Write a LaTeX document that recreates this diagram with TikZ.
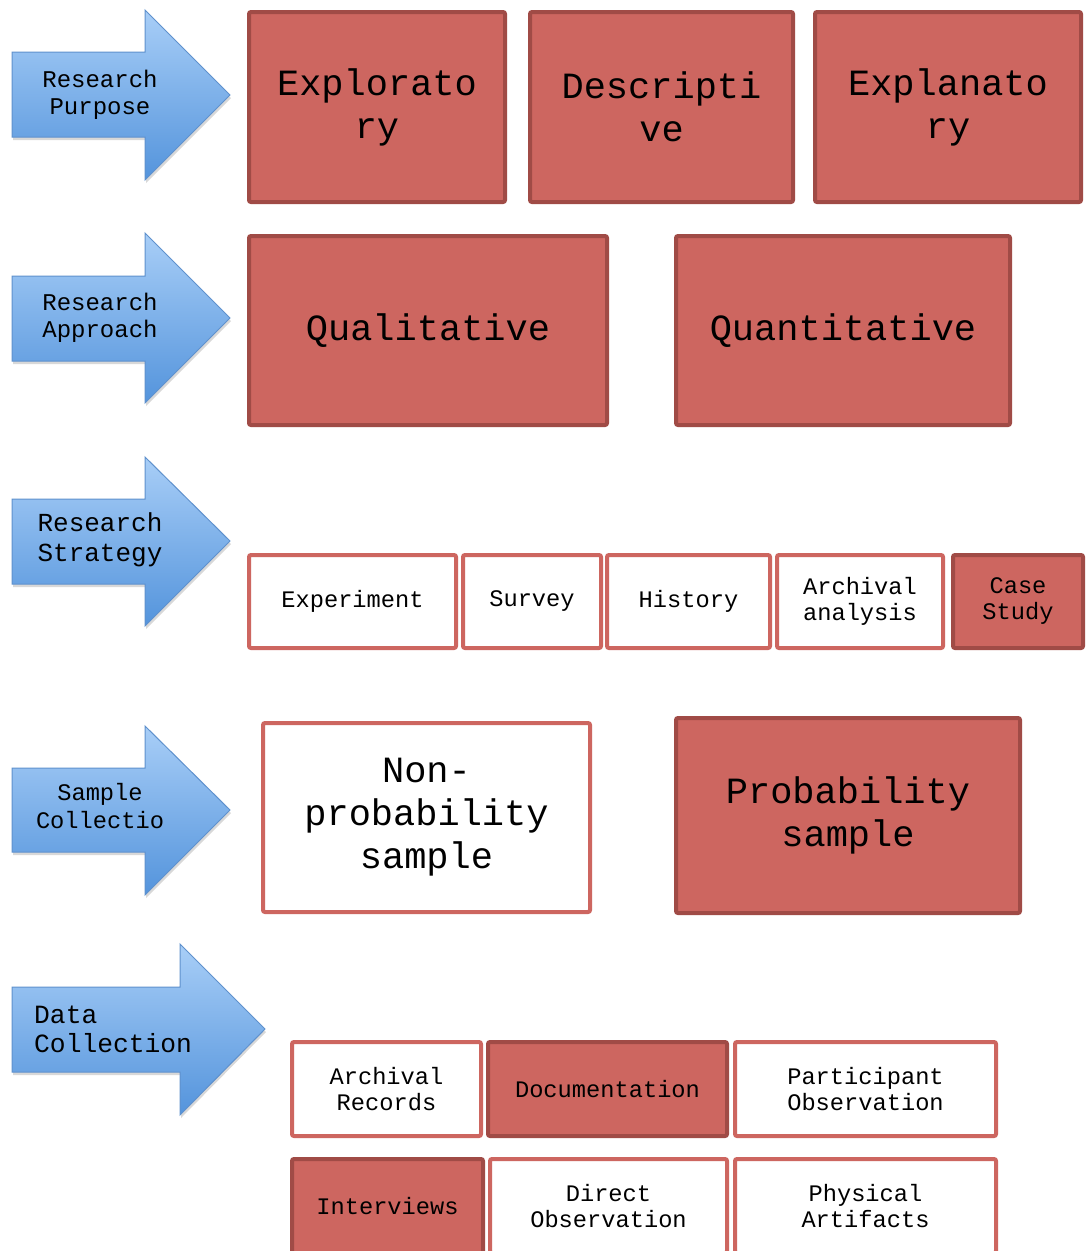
\documentclass[tikz,border=0pt]{standalone}
\usepackage{fontspec}
\setmonofont{Liberation Mono}
\usepackage{tikz}
\usetikzlibrary{shadows}

\definecolor{boxfill}{RGB}{205,102,96}
\definecolor{boxline}{RGB}{160,75,70}
\definecolor{arrowtop}{RGB}{168,206,247}
\definecolor{arrowbot}{RGB}{84,148,220}
\definecolor{arrowline}{RGB}{95,145,205}

\begin{document}
\begin{tikzpicture}[x=1pt, y=-1pt,
  blockarrow/.style={draw=arrowline, line width=1pt, top color=arrowtop, bottom color=arrowbot, drop shadow={shadow xshift=1pt, shadow yshift=-3pt, opacity=0.3}},
  arrowtext/.style={align=center, inner sep=0pt, font=\ttfamily\fontsize{24}{27}\selectfont},
  darkbox/.style={draw=boxline, fill=boxfill, line width=4pt, rounded corners=2pt, align=center, inner sep=0pt},
  lightbox/.style={darkbox, draw=boxfill, fill=white},
  bigtext/.style={font=\ttfamily\fontsize{37}{43}\selectfont},
  smalltext/.style={font=\ttfamily\fontsize{23.7}{26}\selectfont}]
\useasboundingbox[fill=white] (0,0) rectangle (1089,1251);

% arrows on the left
\path[blockarrow] (12,52) -- (145,52) -- (145,10) -- (230,95) -- (145,180) -- (145,137) -- (12,137) -- cycle;
\path[blockarrow] (12,276) -- (145,276) -- (145,233) -- (230,318) -- (145,403) -- (145,361) -- (12,361) -- cycle;
\path[blockarrow] (12,499) -- (145,499) -- (145,457) -- (230,541) -- (145,626) -- (145,584) -- (12,584) -- cycle;
\path[blockarrow] (12,768) -- (145,768) -- (145,726) -- (230,810) -- (145,895) -- (145,852) -- (12,852) -- cycle;
\path[blockarrow] (12,987) -- (180,987) -- (180,944) -- (265,1029) -- (180,1115) -- (180,1072) -- (12,1072) -- cycle;

\node[arrowtext] (purpose) at (100,95) {Research\\Purpose};
\node[arrowtext] (approach) at (100,318) {Research\\Approach};
\node[arrowtext, font=\ttfamily\fontsize{26}{30}\selectfont] (strategy) at (100,540) {Research\\Strategy};
\node[arrowtext, font=\ttfamily\fontsize{23.7}{28}\selectfont] (sample) at (100,806) {Sample\\Collectio};
\node[arrowtext, align=left, anchor=west, font=\ttfamily\fontsize{26.3}{29}\selectfont] (datacol) at (34,1029) {Data\\Collection};

% research purpose
\node[darkbox, bigtext, minimum width=256, minimum height=190] (explor) at (377,107) {Explorato\\ry};
\node[darkbox, bigtext, minimum width=263, minimum height=190] (descr) at (661.5,107) {Descripti\\ve};
\node[darkbox, bigtext, minimum width=266, minimum height=190] (explan) at (948,107) {Explanato\\ry};

% research approach
\node[darkbox, bigtext, minimum width=358, minimum height=189] (qual) at (428,330.5) {Qualitative};
\node[darkbox, bigtext, minimum width=334, minimum height=189] (quant) at (843,330.5) {Quantitative};

% research strategy
\node[lightbox, smalltext, minimum width=207, minimum height=93] (exper) at (352.5,601.5) {Experiment};
\node[lightbox, smalltext, minimum width=138, minimum height=93] (survey) at (532,601.5) {Survey};
\node[lightbox, smalltext, minimum width=163, minimum height=93] (history) at (688.5,601.5) {History};
\node[lightbox, smalltext, minimum width=166, minimum height=93] (archan) at (860,601.5) {Archival\\analysis};
\node[darkbox, smalltext, minimum width=130, minimum height=93] (casest) at (1018,601.5) {Case\\Study};

% sample collection
\node[lightbox, bigtext, minimum width=327, minimum height=189] (nonprob) at (426.5,817.5) {Non-\\probability\\sample};
\node[darkbox, bigtext, minimum width=344, minimum height=195] (prob) at (848,815.5) {Probability\\sample};

% data collection
\node[lightbox, smalltext, minimum width=189, minimum height=94] (archrec) at (386.5,1089) {Archival\\Records};
\node[darkbox, smalltext, minimum width=239, minimum height=94] (docu) at (607.5,1089) {Documentation};
\node[lightbox, smalltext, minimum width=261, minimum height=94] (partobs) at (865.5,1089) {Participant\\Observation};
\node[darkbox, smalltext, minimum width=191, minimum height=94] (interv) at (387.5,1206) {Interviews};
\node[lightbox, smalltext, minimum width=237, minimum height=94] (dirobs) at (608.5,1206) {Direct\\Observation};
\node[lightbox, smalltext, minimum width=261, minimum height=94] (physart) at (865.5,1206) {Physical\\Artifacts};
\end{tikzpicture}
\end{document}
